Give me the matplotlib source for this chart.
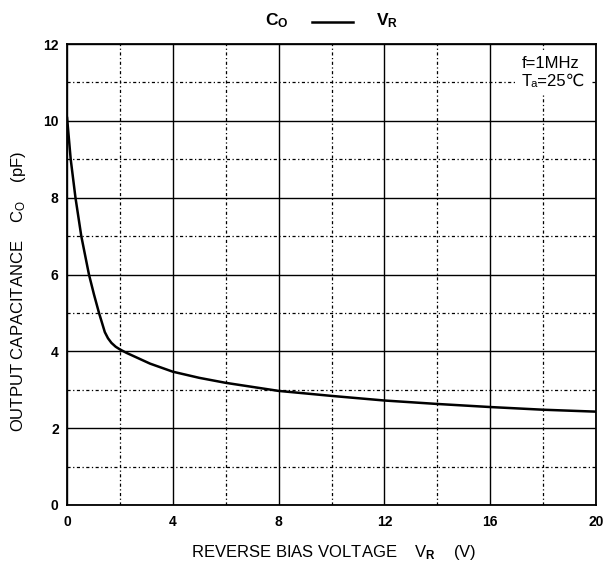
import matplotlib
matplotlib.use("Agg")
import matplotlib.pyplot as plt
from matplotlib.lines import Line2D

# valeurs
vr = [0.0, 0.14, 0.32, 0.54, 0.83, 1.02, 1.21, 1.43, 1.55, 1.68, 1.84, 2.0, 2.25, 2.6, 3.14, 4.0, 5.0, 6.0, 8.0, 10.0, 12.0, 14.0, 16.0, 18.0, 20.0]
co = [10.1, 9.0, 8.0, 7.0, 6.0, 5.48, 5.0, 4.5, 4.34, 4.22, 4.12, 4.05, 3.96, 3.85, 3.68, 3.47, 3.31, 3.18, 2.97, 2.84, 2.72, 2.63, 2.55, 2.48, 2.43]

xticks = [0, 4, 8, 12, 16, 20]
yticks = [0, 2, 4, 6, 8, 10, 12]

fam = ['Liberation Sans', 'DejaVu Sans']
plt.rcParams['mathtext.fontset'] = 'custom'
plt.rcParams['mathtext.rm'] = 'Liberation Sans'
plt.rcParams['mathtext.bf'] = 'Liberation Sans:bold'
plt.rcParams['mathtext.it'] = 'Liberation Sans'

fig = plt.figure(figsize=(6.06, 5.68), dpi=100)
ax = fig.add_axes([67/606, 1-505/568, 529/606, 461/568])

ax.set_xlim(0, 20)
ax.set_ylim(0, 12)
ax.set_xticks(xticks)
ax.set_yticks(yticks)
ax.set_xticks([2, 6, 10, 14, 18], minor=True)
ax.set_yticks([1, 3, 5, 7, 9, 11], minor=True)
ax.grid(True, which='major', color='black', linewidth=1.0, linestyle='-')
ax.grid(True, which='minor', color='black', linewidth=0.9, linestyle=(0, (2.5, 2, 1, 2)))
ax.tick_params(which='both', length=0)
ax.tick_params(axis='x', pad=7)
ax.tick_params(axis='y', pad=6)
for lab in ax.get_xticklabels() + ax.get_yticklabels():
    lab.set_fontfamily(fam)
    lab.set_fontweight('bold')
    lab.set_fontsize(10)
for sp in ax.spines.values():
    sp.set_linewidth(1.3)

ax.plot(vr, co, color='black', linewidth=1.8, solid_capstyle='round', solid_joinstyle='round', zorder=3)

# conditions de mesure (fond blanc qui masque la grille)
ax.text((522-67)/529, (505-56)/461, "f=1MHz\nTₐ=25℃", transform=ax.transAxes,
        ha='left', va='top', ma='left', fontsize=12, family=fam, linespacing=1.25,
        bbox=dict(facecolor='white', edgecolor='none', pad=4), zorder=4)

# titre : Co ---- VR
fig.text(265/606, 1-25/568, r"C$_{\mathbf{O}}$", ha='left', va='baseline', fontsize=12.5,
         fontweight='bold', family='Liberation Sans')
fig.add_artist(Line2D([312/606, 353/606], [1-22/568, 1-22/568], color='black', linewidth=1.8))
fig.text(376/606, 1-25/568, r"V$_{\mathbf{R}}$", ha='left', va='baseline', fontsize=12.5,
         fontweight='bold', family='Liberation Sans')

fig.text(334/606, 1-557/568, r"REVERSE BIAS VOLTAGE    V$_{\mathbf{R}}$    (V)", ha='center', va='baseline',
         fontsize=12, family=fam)
fig.text(19/606, 1-291/568, r"OUTPUT CAPACITANCE    C$_{\mathrm{O}}$    (pF)", ha='center', va='center',
         rotation=90, fontsize=12, family=fam)

fig.savefig('out.png', dpi=100)
